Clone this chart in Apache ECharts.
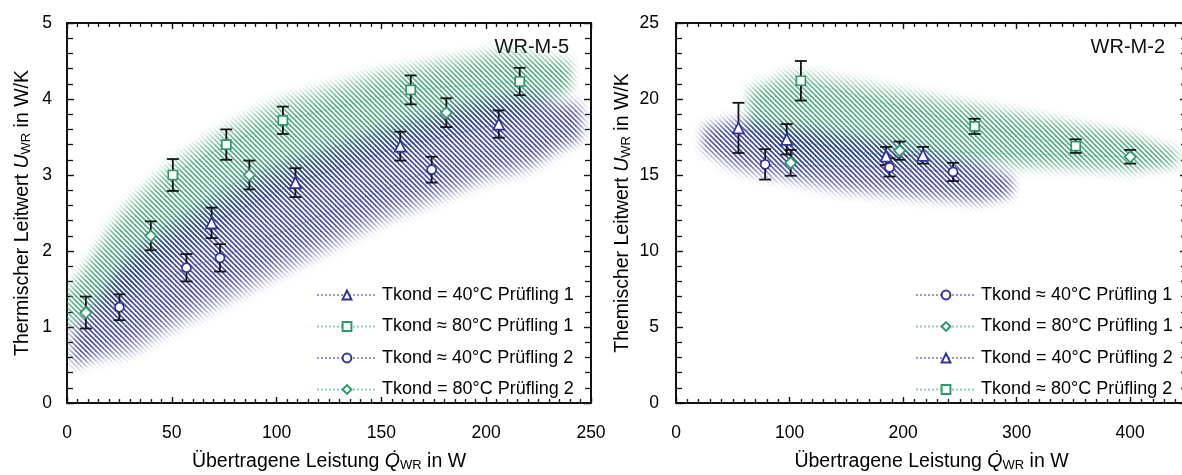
<!DOCTYPE html>
<html><head><meta charset="utf-8">
<script src="https://cdn.jsdelivr.net/npm/echarts@6/dist/echarts.min.js"></script>
<style>html,body{margin:0;padding:0;background:#fff}#c{width:1182px;height:475px}</style>
</head><body><div id="c"></div>
<script>
// ---------- DATA (x, y, error) ----------
// Left chart: WR-M-5
const L_title = 'WR-M-5';
const L_names = ['Tkond = 40°C Prüfling 1', 'Tkond ≈ 80°C Prüfling 1', 'Tkond ≈ 40°C Prüfling 2', 'Tkond = 80°C Prüfling 2'];
const L_tri40_P1 = [[69, 2.37, 0.20], [109, 2.90, 0.19], [159, 3.38, 0.19], [206, 3.67, 0.18]];
const L_sq80_P1  = [[50.5, 3.00, 0.21], [76, 3.40, 0.20], [103, 3.72, 0.18], [164, 4.12, 0.19], [216, 4.23, 0.18]];
const L_ci40_P2  = [[25, 1.26, 0.17], [57, 1.78, 0.18], [73, 1.91, 0.18], [174, 3.07, 0.17]];
const L_di80_P2  = [[9, 1.19, 0.21], [40, 2.20, 0.19], [87, 3.00, 0.19], [181, 3.82, 0.19]];
// uncertainty bands [x, lower, upper]
const L_bandGreen = [[0, 0.70, 1.70], [25, 1.30, 2.50], [50, 1.90, 3.15], [75, 2.35, 3.60], [100, 2.70, 3.95], [150, 3.25, 4.35], [200, 3.65, 4.60], [240, 3.90, 4.70]];
const L_bandBlue  = [[3, 0.25, 1.15], [25, 0.60, 1.85], [50, 1.00, 2.35], [75, 1.35, 2.75], [100, 1.70, 3.10], [150, 2.40, 3.60], [200, 2.95, 4.00], [245, 3.25, 4.15]];
const L_xTicks = { min: 0, max: 250, interval: 50, minor: 10 };
const L_yTicks = { min: 0, max: 5, interval: 1, minor: 5 };
const L_yName = 'Thermischer Leitwert ';

// Right chart: WR-M-2
const R_title = 'WR-M-2';
const R_names = ['Tkond ≈ 40°C Prüfling 1', 'Tkond = 80°C Prüfling 1', 'Tkond = 40°C Prüfling 2', 'Tkond ≈ 80°C Prüfling 2'];
const R_ci40_P1  = [[78.5, 15.7, 1.0], [188, 15.5, 0.6], [244, 15.2, 0.6]];
const R_di80_P1  = [[101, 15.8, 0.85], [197, 16.6, 0.6], [400, 16.2, 0.45]];
const R_tri40_P2 = [[55, 18.1, 1.65], [97.5, 17.35, 1.0], [185, 16.25, 0.6], [217.5, 16.3, 0.55]];
const R_sq80_P2  = [[110, 21.2, 1.3], [263, 18.2, 0.5], [352, 16.9, 0.45]];
const R_bandBlue  = [[25, 15.8, 19.0], [146, 14.0, 17.7], [295, 13.0, 15.5]];
const R_bandGreen = [[65, 15.9, 22.3], [263, 15.7, 19.6], [440, 15.1, 17.1]];
const R_xTicks = { min: 0, max: 450, interval: 100, minor: 10 };
const R_yTicks = { min: 0, max: 25, interval: 5, minor: 5 };
const R_yName = 'Themischer Leitwert ';

// ---------- STYLE ----------
const BLUE = '#32329a', GREEN = '#2e9a69';
const BAND_BLUE = '#28288c', BAND_GREEN = '#33986a';
const FONT = 'Liberation Sans';

function makeTile(color) {
  const c = document.createElement('canvas');
  c.width = c.height = 5;
  const g = c.getContext('2d');
  g.strokeStyle = color; g.lineWidth = 1.8;
  for (let k = -1; k <= 1; k++) { g.beginPath(); g.moveTo(k * 5 - 1, -1); g.lineTo(k * 5 + 6, 6); g.stroke(); }
  return c;
}
function interp(band, x) {
  for (let i = 0; i < band.length - 1; i++) {
    const a = band[i], b = band[i + 1];
    if (x >= a[0] && x <= b[0]) {
      const t = (x - a[0]) / (b[0] - a[0]);
      return [a[1] + (b[1] - a[1]) * t, a[2] + (b[2] - a[2]) * t];
    }
  }
  const l = x < band[0][0] ? band[0] : band[band.length - 1];
  return [l[1], l[2]];
}
function smooth(t) { t = Math.max(0, Math.min(1, t)); return t * t * (3 - 2 * t); }
function bandSeries(band, color, xi, yi) {
  const tile = makeTile(color);
  return {
    type: 'custom', xAxisIndex: xi, yAxisIndex: yi, z: 1, silent: true,
    data: band, encode: { x: 0, y: [1, 2] },
    renderItem: function (params, api) {
      if (params.dataIndex !== 0) return;
      const W = api.getWidth(), H = api.getHeight(), cs = params.coordSys;
      const n = band.length, x0 = band[0][0], x1 = band[n - 1][0], R = x1 - x0;
      const cv = document.createElement('canvas'); cv.width = W; cv.height = H;
      const g = cv.getContext('2d');
      g.save();
      g.beginPath(); g.rect(cs.x, cs.y, cs.width, cs.height); g.clip();
      g.filter = 'blur(6px)';
      const passes = [[1.05, 0.5], [0.75, 0.6]];
      passes.forEach(function (p) {
        const up = [], lo = [];
        for (let s = 0; s <= 60; s++) {
          const x = x0 + R * s / 60;
          const v = interp(band, x), c = (v[0] + v[1]) / 2;
          const taper = 0.55 + 0.45 * smooth(Math.min(x - x0, x1 - x) / (0.12 * R));
          const h = (v[1] - v[0]) / 2 * p[0] * taper;
          up.push(api.coord([x, c + h])); lo.push(api.coord([x, c - h]));
        }
        const pts = up.concat(lo.reverse());
        g.beginPath(); g.moveTo(pts[0][0], pts[0][1]);
        for (let k = 1; k < pts.length; k++) g.lineTo(pts[k][0], pts[k][1]);
        g.closePath();
        g.fillStyle = 'rgba(0,0,0,' + p[1] + ')';
        g.fill();
      });
      g.restore();
      g.globalCompositeOperation = 'source-in';
      g.fillStyle = g.createPattern(tile, 'repeat');
      g.fillRect(0, 0, W, H);
      return { type: 'image', style: { image: cv, x: 0, y: 0, width: W, height: H } };
    }
  };
}
function errSeries(data, xi, yi) {
  return {
    type: 'custom', xAxisIndex: xi, yAxisIndex: yi, z: 3, silent: true,
    data: data, encode: { x: 0, y: 1 },
    renderItem: function (params, api) {
      const x = api.value(0), y = api.value(1), e = api.value(2);
      const t = api.coord([x, y + e]), b = api.coord([x, y - e]), w = 6;
      const st = { stroke: '#151515', lineWidth: 1.8 };
      return { type: 'group', children: [
        { type: 'line', shape: { x1: t[0], y1: t[1], x2: b[0], y2: b[1] }, style: st },
        { type: 'line', shape: { x1: t[0] - w, y1: t[1], x2: t[0] + w, y2: t[1] }, style: st },
        { type: 'line', shape: { x1: b[0] - w, y1: b[1], x2: b[0] + w, y2: b[1] }, style: st }
      ] };
    }
  };
}
function ptSeries(name, data, color, symbol, size, xi, yi) {
  return {
    type: 'line', name: name, xAxisIndex: xi, yAxisIndex: yi, z: 5,
    data: data.map(d => [d[0], d[1]]),
    symbol: symbol, symbolSize: size, showAllSymbol: true,
    itemStyle: { color: '#fff', borderColor: color, borderWidth: 1.7, opacity: 1 },
    lineStyle: { color: color, type: 'dotted', width: 1, opacity: 0.5 },
    emphasis: { disabled: true }
  };
}
const rich = {
  n: { fontSize: 19.5, fontFamily: FONT, color: '#000' },
  i: { fontSize: 19.5, fontFamily: FONT, color: '#000', fontStyle: 'italic' },
  s: { fontSize: 13, fontFamily: FONT, color: '#000', padding: [7, 0, 0, 0] }
};
function xAx(grid, t, pos, name, gap, showMax) {
  const a = {
    type: 'value', gridIndex: grid, position: pos, min: t.min, max: t.max, interval: t.interval,
    axisLine: { onZero: false, lineStyle: { color: '#111', width: 2 } },
    axisTick: { inside: true, length: 6, lineStyle: { color: '#111', width: 1.4 } },
    minorTick: { show: true, splitNumber: t.minor, length: 4, lineStyle: { color: '#111', width: 1.3 } },
    splitLine: { show: false },
    axisLabel: { show: pos === 'bottom', fontSize: 17.5, color: '#000', fontFamily: FONT, margin: 21, showMaxLabel: showMax }
  };
  if (name) { a.name = name; a.nameLocation = 'middle'; a.nameGap = gap; a.nameTextStyle = { rich: rich }; }
  return a;
}
function yAx(grid, t, pos, name, gap, margin) {
  const a = {
    type: 'value', gridIndex: grid, position: pos, min: t.min, max: t.max, interval: t.interval,
    axisLine: { onZero: false, lineStyle: { color: '#111', width: 2 } },
    axisTick: { inside: true, length: 7, lineStyle: { color: '#111', width: 1.4 } },
    minorTick: { show: true, splitNumber: t.minor, length: 6, lineStyle: { color: '#111', width: 1.3 } },
    splitLine: { show: false },
    axisLabel: { show: pos === 'left', fontSize: 17.5, color: '#000', fontFamily: FONT, margin: margin }
  };
  if (name) { a.name = name; a.nameLocation = 'middle'; a.nameGap = gap; a.nameRotate = 90; a.nameTextStyle = { rich: rich }; }
  return a;
}
const xName = '{n|Übertragene Leistung }{i|Q\u0307}{s|WR}{n| in W}';
const yNameL = '{n|' + L_yName + '}{i|U}{s|WR}{n| in W/K}';
const yNameR = '{n|' + R_yName + '}{i|U}{s|WR}{n| in W/K}';

const legendBase = {
  orient: 'vertical', itemWidth: 60, itemHeight: 11, itemGap: 13.5,
  textStyle: { fontSize: 18, fontFamily: FONT, color: '#000', lineHeight: 18 },
  selectedMode: false
};

const option = {
  animation: false,
  backgroundColor: '#fff',
  grid: [
    { left: 67, top: 23, width: 524, height: 380, outerBoundsMode: 'none', containLabel: false },
    { left: 676, top: 23, width: 511, height: 380, outerBoundsMode: 'none', containLabel: false }
  ],
  xAxis: [
    xAx(0, L_xTicks, 'bottom', xName, 49, true),
    xAx(0, L_xTicks, 'top'),
    xAx(1, R_xTicks, 'bottom', xName, 49, false),
    xAx(1, R_xTicks, 'top')
  ],
  yAxis: [
    yAx(0, L_yTicks, 'left', yNameL, 34, 15),
    yAx(0, L_yTicks, 'right'),
    yAx(1, R_yTicks, 'left', yNameR, 43, 17),
    yAx(1, R_yTicks, 'right')
  ],
  legend: [
    Object.assign({ data: L_names, left: 311, top: 281 }, legendBase),
    Object.assign({ data: R_names, left: 910, top: 281 }, legendBase)
  ],
  graphic: [
    { type: 'text', x: 569, y: 47, style: { text: L_title, fontSize: 20, fontFamily: FONT, fill: '#111', textAlign: 'right', textVerticalAlign: 'middle' } },
    { type: 'text', x: 1165, y: 47, style: { text: R_title, fontSize: 20, fontFamily: FONT, fill: '#111', textAlign: 'right', textVerticalAlign: 'middle' } }
  ],
  series: [
    bandSeries(L_bandGreen, BAND_GREEN, 0, 0),
    bandSeries(L_bandBlue, BAND_BLUE, 0, 0),
    errSeries(L_tri40_P1, 0, 0), errSeries(L_sq80_P1, 0, 0), errSeries(L_ci40_P2, 0, 0), errSeries(L_di80_P2, 0, 0),
    ptSeries(L_names[0], L_tri40_P1, BLUE, 'triangle', 11, 0, 0),
    ptSeries(L_names[1], L_sq80_P1, GREEN, 'rect', 9, 0, 0),
    ptSeries(L_names[2], L_ci40_P2, BLUE, 'circle', 9, 0, 0),
    ptSeries(L_names[3], L_di80_P2, GREEN, 'diamond', 11, 0, 0),

    bandSeries(R_bandGreen, BAND_GREEN, 2, 2),
    bandSeries(R_bandBlue, BAND_BLUE, 2, 2),
    errSeries(R_ci40_P1, 2, 2), errSeries(R_di80_P1, 2, 2), errSeries(R_tri40_P2, 2, 2), errSeries(R_sq80_P2, 2, 2),
    ptSeries(R_names[0], R_ci40_P1, BLUE, 'circle', 9, 2, 2),
    ptSeries(R_names[1], R_di80_P1, GREEN, 'diamond', 11, 2, 2),
    ptSeries(R_names[2], R_tri40_P2, BLUE, 'triangle', 11, 2, 2),
    ptSeries(R_names[3], R_sq80_P2, GREEN, 'rect', 9, 2, 2)
  ]
};
const chart = echarts.init(document.getElementById('c'), null, { renderer: 'canvas' });
chart.setOption(option);
</script>
</body></html>
